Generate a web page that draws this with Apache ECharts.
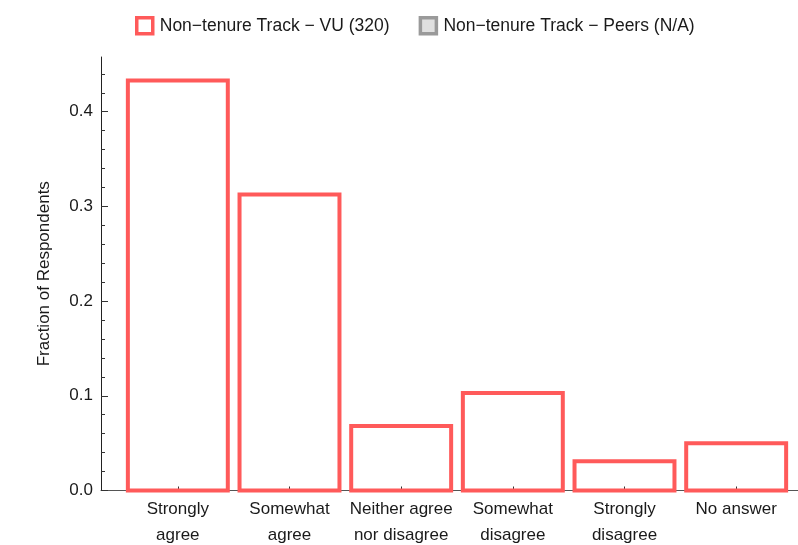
<!DOCTYPE html>
<html>
<head>
<meta charset="utf-8">
<script src="https://cdn.jsdelivr.net/npm/echarts@6/dist/echarts.min.js"></script>
<style>
html,body{margin:0;padding:0;background:#fff;}
#chart{width:798px;height:545px;}
</style>
</head>
<body>
<div id="chart"></div>
<script>
var categories = ['Strongly\nagree', 'Somewhat\nagree', 'Neither agree\nnor disagree', 'Somewhat\ndisagree', 'Strongly\ndisagree', 'No answer'];
var vuValues = [0.433, 0.3125, 0.068, 0.103, 0.031, 0.05];
var peersValues = [];
var seriesNames = ['Non\u2212tenure Track \u2212 VU (320)', 'Non\u2212tenure Track \u2212 Peers (N/A)'];
var yMajorMax = 0.4;
var yMinorMax = 0.44;

var RED = '#ff5a5a';
var FONT = 'Liberation Sans, Arial, sans-serif';
var TXT = '#1a1a1a';

// pixel layout
var BOTTOM = 545 - 490.5;
var PX_PER_UNIT = 947;
var topFor = function (v) { return 490.5 - v * PX_PER_UNIT; };

var vuData = vuValues.map(function (v, i) { return [i, v]; });

var chart = echarts.init(document.getElementById('chart'), null, {renderer: 'canvas'});
chart.setOption({
  animation: false,
  backgroundColor: '#fff',
  textStyle: {fontFamily: FONT, color: TXT},
  legend: {
    left: 130, top: 11,
    itemWidth: 16, itemHeight: 16, itemGap: 29,
    textStyle: {fontSize: 17.5, color: TXT, fontFamily: FONT, padding: [0, 0, 0, 2]},
    data: [
      {name: seriesNames[0], icon: 'rect', itemStyle: {color: '#ffffff', borderColor: RED, borderWidth: 3.5}},
      {name: seriesNames[1], icon: 'rect', itemStyle: {color: '#e0e0e0', borderColor: '#9a9a9a', borderWidth: 3.5}}
    ]
  },
  grid: [
    {left: 122, right: 6, top: topFor(yMinorMax), bottom: BOTTOM, containLabel: false, outerBoundsMode: 'none'},
    {left: 122, right: 6, top: topFor(yMajorMax), bottom: BOTTOM, containLabel: false, outerBoundsMode: 'none'},
    {left: 101, right: 0, top: 57, bottom: BOTTOM, containLabel: false, outerBoundsMode: 'none'}
  ],
  xAxis: [
    {
      type: 'category', gridIndex: 0, data: categories,
      axisLine: {show: false},
      axisTick: {show: true, inside: true, length: 4, alignWithLabel: true, lineStyle: {color: '#333'}},
      axisLabel: {fontSize: 17, lineHeight: 26, margin: 6, color: TXT, fontFamily: FONT, interval: 0}
    },
    {
      type: 'category', gridIndex: 1, data: categories, show: false
    },
    {
      type: 'value', gridIndex: 2, min: 0, max: 1,
      axisLine: {show: true, onZero: false, lineStyle: {color: '#555', width: 1}},
      axisTick: {show: false}, axisLabel: {show: false}, splitLine: {show: false}
    }
  ],
  yAxis: [
    {
      type: 'value', gridIndex: 0, min: 0, max: yMinorMax, interval: 0.02, offset: 21,
      axisLine: {show: false},
      axisTick: {show: true, inside: true, length: 4, lineStyle: {color: '#333'}},
      axisLabel: {show: false},
      splitLine: {show: false}
    },
    {
      type: 'value', gridIndex: 1, min: 0, max: yMajorMax, interval: 0.1, offset: 21,
      axisLine: {show: false},
      axisTick: {show: true, inside: true, length: 7, lineStyle: {color: '#333'}},
      axisLabel: {fontSize: 17, margin: 8, color: TXT, fontFamily: FONT,
        formatter: function (v) { return v.toFixed(1); }},
      splitLine: {show: false}
    },
    {
      type: 'value', gridIndex: 2, min: 0, max: 1,
      name: 'Fraction of Respondents', nameLocation: 'middle', nameGap: 48, nameRotate: 90,
      nameTextStyle: {fontSize: 17, color: TXT, fontFamily: FONT},
      axisLine: {show: true, onZero: false, lineStyle: {color: '#222', width: 1}},
      axisTick: {show: false}, axisLabel: {show: false}, splitLine: {show: false}
    }
  ],
  series: [
    {
      name: seriesNames[0], type: 'custom', xAxisIndex: 0, yAxisIndex: 0,
      data: vuData, z: 1,
      renderItem: function (params, api) {
        var i = api.value(0), v = api.value(1);
        var p0 = api.coord([i, 0]);
        var p1 = api.coord([i, v]);
        var w = api.size([1, 0])[0] * 0.895;
        return {
          type: 'rect',
          shape: {x: p0[0] - w / 2, y: p1[1], width: w, height: p0[1] - p1[1]},
          style: {fill: 'none', stroke: RED, lineWidth: 4}
        };
      }
    },
    {
      name: seriesNames[1], type: 'bar', xAxisIndex: 0, yAxisIndex: 0,
      data: peersValues,
      itemStyle: {color: '#e0e0e0', borderColor: '#9a9a9a', borderWidth: 4}
    }
  ]
});
</script>
</body>
</html>
